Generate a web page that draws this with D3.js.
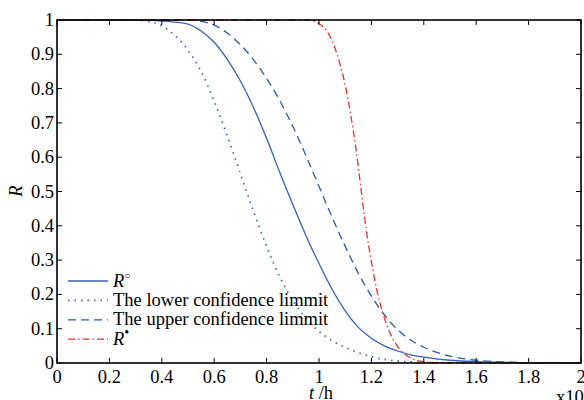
<!DOCTYPE html>
<html><head><meta charset="utf-8">
<script src="https://cdn.jsdelivr.net/npm/d3@7"></script>
</head><body style="margin:0"><svg id="c" width="584" height="400" style="font-family:'Liberation Serif','Times New Roman',Times,serif"></svg>
<script>
// data (t in units of 1e5 h)
const tSolid = [0,0.3,0.35,0.4,0.45,0.5,0.55,0.6,0.65,0.7,0.75,0.8,0.85,0.9,0.95,1.0,1.05,1.1,1.15,1.2,1.25,1.3,1.35,1.4,1.5,1.6,1.8,2.0];
const rSolid = [1,1,0.999,0.997,0.994,0.988,0.968,0.935,0.885,0.822,0.745,0.655,0.556,0.462,0.372,0.29,0.215,0.152,0.104,0.072,0.05,0.035,0.024,0.017,0.008,0.004,0.001,0];
const tLower = [0,0.3,0.35,0.4,0.45,0.5,0.55,0.6,0.65,0.7,0.75,0.8,0.85,0.9,0.95,1.0,1.05,1.1,1.15,1.2,1.3,1.4,1.6,2.0];
const rLower = [1,1,0.995,0.983,0.955,0.912,0.85,0.763,0.662,0.552,0.442,0.34,0.252,0.182,0.13,0.092,0.065,0.045,0.03,0.018,0.006,0.002,0,0];
const tUpper = [0,0.5,0.55,0.6,0.65,0.7,0.75,0.8,0.85,0.9,0.95,1.0,1.05,1.1,1.15,1.2,1.25,1.3,1.35,1.4,1.45,1.5,1.6,1.7,1.8,2.0];
const rUpper = [1,1,0.996,0.985,0.962,0.928,0.884,0.83,0.765,0.69,0.605,0.515,0.425,0.34,0.262,0.195,0.14,0.097,0.067,0.046,0.031,0.02,0.008,0.003,0.001,0];
const tRed = [0,0.95,0.98,1.0,1.02,1.04,1.06,1.08,1.1,1.12,1.14,1.16,1.18,1.2,1.22,1.24,1.26,1.28,1.3,1.32,1.34,1.36,1.4,1.45,2.0];
const rRed = [1,1,0.997,0.99,0.977,0.955,0.92,0.872,0.81,0.728,0.63,0.51,0.39,0.295,0.215,0.155,0.108,0.073,0.048,0.031,0.019,0.011,0.004,0.001,0];
const xTicks = [0,0.2,0.4,0.6,0.8,1,1.2,1.4,1.6,1.8,2];
const yTicks = [0,0.1,0.2,0.3,0.4,0.5,0.6,0.7,0.8,0.9,1];
const legendLabels = ["R", "The lower confidence limmit", "The upper confidence limmit", "R"];
const legendSups = ["\u25CB", "", "", "\u2022"];

const svg = d3.select("#c");
const txt = (sel) => sel.append("text").style("font-family", '"Liberation Serif"').attr("fill", "#000");
const L=57, R=581, T=20, B=363;
const x = d3.scaleLinear().domain([0,2]).range([L,R]);
const y = d3.scaleLinear().domain([0,1]).range([B,T]);
const FS = 18.5;

const series = [
  {t:tSolid, r:rSolid, color:"#3561b4", dash:null, w:1.3},
  {t:tLower, r:rLower, color:"#3b66b8", dash:"1.5,5", w:1.7},
  {t:tUpper, r:rUpper, color:"#2c5aa8", dash:"8,5", w:1.3},
  {t:tRed, r:rRed, color:"#ee2d2d", dash:"7,3,1.5,3", w:1.3}
];
const line = d3.line().x(d=>x(d[0])).y(d=>y(d[1])).curve(d3.curveMonotoneX);
const g = svg.append("g");
series.forEach(s=>{
  const pts = s.t.map((t,i)=>[t,s.r[i]]);
  g.append("path").attr("d",line(pts)).attr("fill","none").attr("stroke",s.color)
   .attr("stroke-width",s.w).attr("stroke-dasharray",s.dash);
});

// axes with inward ticks
const ax = svg.append("g");
const tl = 5;
xTicks.forEach(v=>{
  ax.append("line").attr("x1",x(v)).attr("x2",x(v)).attr("y1",B).attr("y2",B-tl).attr("stroke","#000");
  ax.append("line").attr("x1",x(v)).attr("x2",x(v)).attr("y1",T).attr("y2",T+tl).attr("stroke","#000");
  txt(ax).attr("x",x(v)).attr("y",B+20).attr("text-anchor","middle").attr("font-size",FS).text(d3.format("~g")(v));
});
yTicks.forEach(v=>{
  ax.append("line").attr("x1",L).attr("x2",L+tl).attr("y1",y(v)).attr("y2",y(v)).attr("stroke","#000");
  ax.append("line").attr("x1",R).attr("x2",R-tl).attr("y1",y(v)).attr("y2",y(v)).attr("stroke","#000");
  txt(ax).attr("x",L-3).attr("y",y(v)+6).attr("text-anchor","end").attr("font-size",FS).text(d3.format("~g")(v));
});
svg.append("rect").attr("x",L).attr("y",T).attr("width",R-L).attr("height",B-T)
  .attr("fill","none").attr("stroke","#000").attr("stroke-width",1.6);

// axis labels
const xl = txt(svg).attr("x",321).attr("y",399).attr("text-anchor","middle").attr("font-size",FS);
xl.append("tspan").attr("font-style","italic").text("t");
xl.append("tspan").text(" /h");
txt(svg).attr("transform","translate(22,191) rotate(-90)").attr("text-anchor","middle")
  .attr("font-size",FS).attr("font-style","italic").text("R");
const ex = txt(svg).attr("x",556).attr("y",403).attr("font-size",FS);
ex.append("tspan").text("x10");
ex.append("tspan").attr("dy",-10).attr("font-size",12).text("5");

// legend
const ly0 = 281, ldy = 19.4;
series.forEach((s,i)=>{
  const yy = ly0 + i*ldy;
  svg.append("line").attr("x1",68).attr("x2",108).attr("y1",yy).attr("y2",yy)
    .attr("stroke",s.color).attr("stroke-width",s.w).attr("stroke-dasharray",s.dash);
  const tx = txt(svg).attr("x",113).attr("y",yy+5.5).attr("font-size",FS);
  if (legendSups[i]) {
    tx.append("tspan").attr("font-style","italic").text(legendLabels[i]);
    tx.append("tspan").attr("dy",-8).attr("font-size",i===0?10:14).text(legendSups[i]);
  } else {
    tx.text(legendLabels[i]);
  }
});
</script></body></html>
